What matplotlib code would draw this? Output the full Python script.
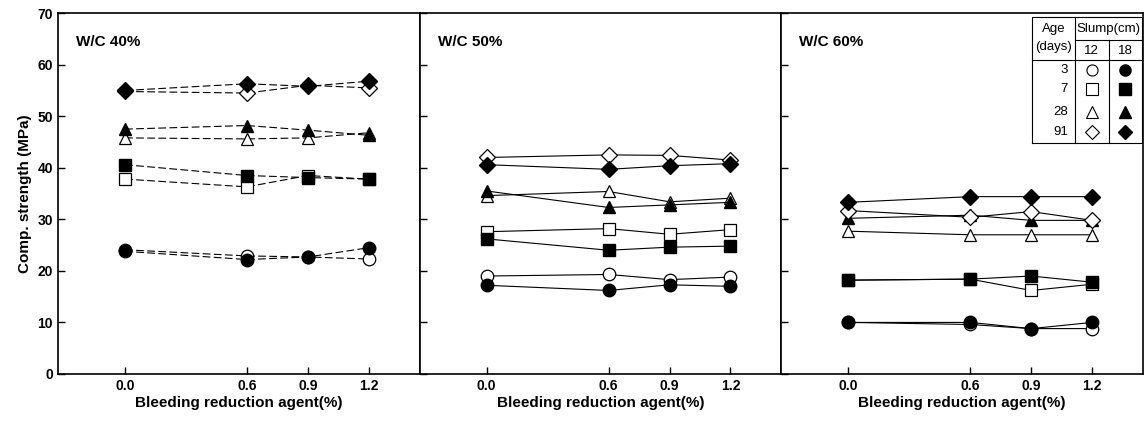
import matplotlib.pyplot as plt
import numpy as np

plt.rcParams['font.family'] = ['Liberation Sans', 'DejaVu Sans']

# Bleeding reduction agent dosage (%)
agent = np.array([0.0, 0.6, 0.9, 1.2])
panels = ['W/C 40%', 'W/C 50%', 'W/C 60%']
ages = ['3', '7', '28', '91']
slumps = ['12', '18']

# Compressive strength (MPa): [panel][age] -> slump 12 / slump 18
wc40_s12 = [[24.1, 22.9, 22.7, 22.3],
            [37.8, 36.3, 38.5, 37.8],
            [45.8, 45.6, 45.8, 46.8],
            [54.8, 54.5, 56.0, 55.5]]
wc40_s18 = [[23.8, 22.2, 22.7, 24.5],
            [40.6, 38.5, 38.1, 37.8],
            [47.5, 48.2, 47.3, 46.3],
            [55.0, 56.3, 55.8, 56.8]]

wc50_s12 = [[19.0, 19.3, 18.3, 18.8],
            [27.6, 28.2, 27.1, 28.0],
            [34.6, 35.4, 33.4, 34.1],
            [42.0, 42.5, 42.4, 41.5]]
wc50_s18 = [[17.2, 16.2, 17.3, 17.0],
            [26.2, 24.0, 24.6, 24.8],
            [35.5, 32.3, 32.8, 33.3],
            [40.6, 39.7, 40.4, 40.8]]

wc60_s12 = [[10.0, 9.6, 8.8, 8.8],
            [18.2, 18.4, 16.2, 17.4],
            [27.7, 27.0, 27.0, 27.0],
            [31.7, 30.4, 31.5, 29.8]]
wc60_s18 = [[10.0, 10.0, 8.8, 10.0],
            [18.2, 18.4, 19.0, 17.8],
            [30.2, 30.8, 29.8, 29.8],
            [33.3, 34.4, 34.4, 34.4]]

data12 = [wc40_s12, wc50_s12, wc60_s12]
data18 = [wc40_s18, wc50_s18, wc60_s18]

markers = ['o', 's', '^', 'D']
msizes = [9, 9, 9, 8]
line_styles = [(0, (7, 3)), '-', '-']

fig, axs = plt.subplots(1, 3, figsize=(11.48, 4.24), dpi=100, sharey=True)
fig.subplots_adjust(left=0.0505, right=0.9956, bottom=0.118, top=0.969, wspace=0)

for i, ax in enumerate(axs):
    for j in range(4):
        ax.plot(agent, data12[i][j], marker=markers[j], ms=msizes[j], color='black',
                mfc='white', mec='black', mew=0.9, lw=0.8, ls=line_styles[i])
        ax.plot(agent, data18[i][j], marker=markers[j], ms=msizes[j], color='black',
                mfc='black', mec='black', lw=0.8, ls=line_styles[i])
    ax.set_xlim(-0.33, 1.45)
    ax.set_ylim(0, 70)
    ax.set_xticks(agent)
    ax.set_xticklabels(['0.0', '0.6', '0.9', '1.2'])
    ax.set_yticks(range(0, 71, 10))
    ax.tick_params(direction='in', length=5, width=1, labelsize=10)
    for lab in ax.get_xticklabels() + ax.get_yticklabels():
        lab.set_fontweight('bold')
    for sp in ax.spines.values():
        sp.set_linewidth(1.2)
    ax.set_xlabel('Bleeding reduction agent(%)', fontsize=11, fontweight='bold', labelpad=2)
    ax.text(0.05, 0.92, panels[i], transform=ax.transAxes, fontsize=11,
            fontweight='bold', va='center', ha='left')
    if i > 0:
        ax.tick_params(labelleft=False)

axs[0].set_ylabel('Comp. strength (MPa)', fontsize=11, fontweight='bold', labelpad=4)

# legend table in the W/C 60% panel
ax = axs[2]
tr = ax.transAxes
x0, x1, x2, x3 = 0.693, 0.8125, 0.905, 0.997
y_top, y_mid, y_hdr, y_bot = 0.989, 0.925, 0.870, 0.640
ax.fill([x0, x3, x3, x0], [y_bot, y_bot, y_top, y_top], color='white',
        transform=tr, zorder=5)
kw = dict(color='black', lw=0.8, transform=tr, zorder=6)
ax.plot([x0, x3, x3, x0, x0], [y_bot, y_bot, y_top, y_top, y_bot], **kw)
ax.plot([x1, x1], [y_bot, y_top], **kw)
ax.plot([x2, x2], [y_bot, y_mid], **kw)
ax.plot([x1, x3], [y_mid, y_mid], **kw)
ax.plot([x0, x3], [y_hdr, y_hdr], **kw)
narrow = ['Liberation Sans Narrow', 'Liberation Sans', 'DejaVu Sans']
tkw = dict(transform=tr, fontsize=9.5, ha='center', va='center', zorder=7,
           family=narrow)
ax.text((x0 + x1) / 2, 0.957, 'Age', **tkw)
ax.text((x0 + x1) / 2, 0.905, '(days)', **tkw)
ax.text((x1 + x3) / 2, 0.957, 'Slump(cm)', **tkw)
ax.text((x1 + x2) / 2, 0.895, slumps[0], **tkw)
ax.text((x2 + x3) / 2, 0.895, slumps[1], **tkw)
row_y = [0.842, 0.790, 0.727, 0.670]
for j, age in enumerate(ages):
    ax.text(x1 - 0.02, row_y[j], age, transform=tr, fontsize=9.5, ha='right',
            va='center', zorder=7, family=narrow)
    ax.plot((x1 + x2) / 2, row_y[j], marker=markers[j], ms=msizes[j] - 1,
            mfc='white', mec='black', mew=0.8, transform=tr, zorder=7, clip_on=False)
    ax.plot((x2 + x3) / 2, row_y[j], marker=markers[j], ms=msizes[j] - 1,
            mfc='black', mec='black', transform=tr, zorder=7, clip_on=False)

fig.savefig('out.png', dpi=100)
